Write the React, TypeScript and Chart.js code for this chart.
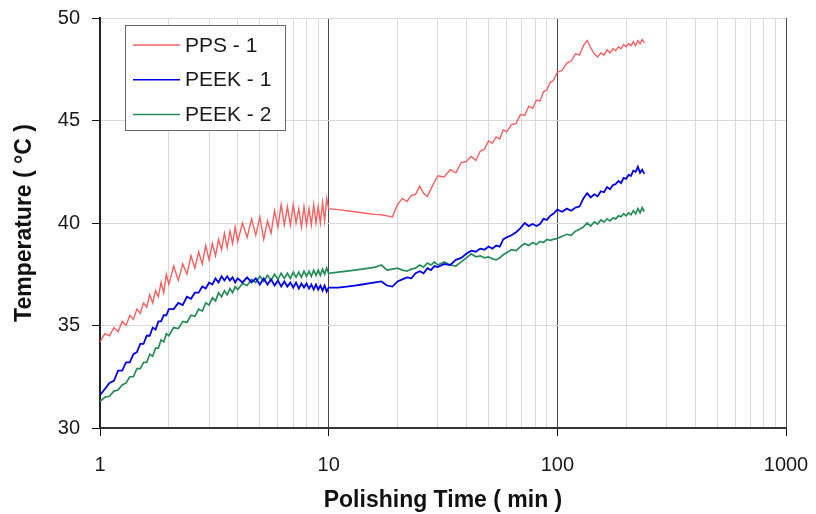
import { useEffect, useRef } from 'react';
import { Chart, registerables } from 'chart.js';

Chart.register(...registerables);

// Sampling times (min)
const TIMES = [
  1.0, 1.05, 1.1, 1.15, 1.2, 1.25, 1.3, 1.35, 1.4, 1.45, 1.5, 1.55, 1.6, 1.65, 1.7, 1.75, 1.8, 1.85, 1.9, 1.95, 2.0,
  2.1, 2.2, 2.3, 2.4, 2.5, 2.6, 2.7, 2.8, 2.9, 3.0, 3.1, 3.2, 3.3, 3.4, 3.5, 3.6, 3.7, 3.8, 3.9, 4.0,
  4.2, 4.4, 4.6, 4.8, 5.0, 5.2, 5.4, 5.6, 5.8, 6.0, 6.2, 6.4, 6.6, 6.8, 7.0, 7.2, 7.4, 7.6, 7.8, 8.0, 8.2, 8.4, 8.6, 8.8, 9.0, 9.2, 9.4, 9.6, 9.8, 10.0,
  11, 12, 13, 14, 15, 16, 17, 18, 19, 20, 21, 22, 23, 24, 25, 26, 27, 28, 29, 30,
  32, 34, 36, 38, 40, 42, 44, 46, 48, 50, 52, 54, 56, 58, 60,
  63, 66, 69, 72, 75, 78, 81, 84, 87, 90, 93, 96,
  100, 105, 110, 115, 120, 125, 130, 135, 140, 145, 150, 155, 160, 165, 170, 175, 180, 185, 190, 195, 200, 205, 210, 215, 220, 225, 230, 235, 240,
];

const PPS_1 = [
  34.2, 34.6, 34.5, 34.9, 34.7, 35.2, 35.0, 35.5, 35.3, 35.8, 35.6, 36.1, 35.9, 36.5, 36.1, 36.7, 36.4, 37.1, 36.6, 37.5, 37.0,
  37.9, 37.2, 38.0, 37.5, 38.4, 37.8, 38.6, 38.0, 38.9, 38.2, 39.0, 38.4, 39.2, 38.7, 39.5, 38.8, 39.6, 39.0, 39.8, 39.1,
  40.0, 39.3, 40.2, 39.4, 40.3, 39.2, 40.1, 39.5, 40.6, 39.8, 40.9, 39.9, 40.8, 39.9, 40.9, 40.0, 40.7, 39.8, 40.8, 39.9, 40.7, 39.9, 40.9, 40.0, 40.8, 40.0, 41.0, 40.1, 41.2, 40.7,
  40.65, 40.6, 40.55, 40.5, 40.45, 40.42, 40.4, 40.35, 40.3, 40.9, 41.2, 41.05, 41.35, 41.4, 41.8, 41.45, 41.3, 41.65, 42.0, 42.3,
  42.25, 42.6, 42.45, 42.95, 43.0, 43.25, 43.05, 43.5, 43.6, 44.0, 43.9, 44.2, 44.1, 44.55, 44.45,
  44.8, 44.85, 45.3, 45.25, 45.7, 45.6, 46.0, 45.95, 46.4, 46.5, 46.85, 46.95,
  47.35, 47.45, 47.8, 47.9, 48.25, 48.2, 48.65, 48.9, 48.55, 48.25, 48.1, 48.3, 48.2, 48.45, 48.3, 48.5, 48.4, 48.6, 48.5, 48.7, 48.6, 48.75, 48.65, 48.85, 48.65, 48.9, 48.75, 48.95, 48.8,
];

const PEEK_1 = [
  31.6, 31.9, 32.2, 32.3, 32.8, 32.8, 33.2, 33.2, 33.6, 33.7, 34.1, 34.1, 34.5, 34.5, 34.9, 34.8, 35.2, 35.2, 35.5, 35.5, 35.8,
  35.8, 36.1, 36.0, 36.4, 36.3, 36.6, 36.6, 36.9, 36.8, 37.1, 37.0, 37.3, 37.1, 37.4, 37.2, 37.4, 37.2, 37.35, 37.1, 37.3,
  37.1, 37.35, 37.1, 37.3, 37.0, 37.3, 37.0, 37.25, 36.95, 37.2, 36.9, 37.15, 36.9, 37.1, 36.85, 37.1, 36.8, 37.05, 36.85, 37.05, 36.8, 37.0, 36.75, 37.0, 36.75, 36.95, 36.7, 36.95, 36.65, 36.85,
  36.85, 36.9, 36.95, 37.0, 37.05, 37.1, 37.15, 36.95, 36.9, 37.15, 37.25, 37.35, 37.3, 37.55, 37.65, 37.55, 37.8, 37.7, 37.9, 37.85,
  38.0, 37.95, 38.2, 38.3, 38.5, 38.65, 38.6, 38.75, 38.7, 38.85, 38.75, 38.9, 38.85, 39.2, 39.3,
  39.4, 39.55, 39.75, 40.0, 39.85, 39.95, 39.85, 39.95, 40.2, 40.15, 40.35, 40.45,
  40.65, 40.55, 40.7, 40.6, 40.75, 40.8, 41.2, 41.45, 41.25, 41.4, 41.3, 41.55, 41.5, 41.75, 41.65, 41.85, 41.9, 42.05, 41.95, 42.2, 42.15, 42.35, 42.3, 42.55, 42.5, 42.75, 42.45, 42.6, 42.4,
];

const PEEK_2 = [
  31.3, 31.5, 31.55, 31.8, 31.85, 32.1, 32.2, 32.5, 32.5, 32.9, 32.9, 33.2, 33.2, 33.6, 33.5, 33.9, 33.9, 34.3, 34.2, 34.6, 34.5,
  34.9, 34.85, 35.2, 35.15, 35.5, 35.45, 35.8, 35.7, 36.1, 36.0, 36.35, 36.2, 36.6, 36.4, 36.7, 36.5, 36.8, 36.6, 36.9, 36.75,
  37.05, 36.95, 37.25, 37.1, 37.4, 37.15, 37.45, 37.2, 37.5, 37.25, 37.55, 37.3, 37.55, 37.3, 37.6, 37.35, 37.6, 37.35, 37.65, 37.4, 37.65, 37.4, 37.7, 37.45, 37.7, 37.45, 37.75, 37.5, 37.8, 37.55,
  37.6, 37.65, 37.7, 37.75, 37.8, 37.85, 37.95, 37.7, 37.75, 37.8, 37.7, 37.65, 37.75, 37.8, 37.95, 37.85, 38.05, 37.95, 38.1, 37.95,
  38.1, 37.95, 37.9, 38.1, 38.3, 38.5, 38.35, 38.4, 38.3, 38.35, 38.25, 38.2, 38.3, 38.45, 38.55,
  38.7, 38.65, 38.85, 39.0, 38.9, 39.05, 38.95, 39.1, 39.05, 39.2, 39.15, 39.2,
  39.25, 39.35, 39.45, 39.4, 39.6, 39.7, 39.8, 40.0, 39.85, 40.05, 39.95, 40.15, 40.05, 40.2, 40.1, 40.25, 40.2, 40.35, 40.3, 40.45, 40.35, 40.5, 40.4, 40.6, 40.45, 40.7, 40.5, 40.75, 40.55,
];

const SERIES_LABELS = ['PPS - 1', 'PEEK - 1', 'PEEK - 2'];
const SERIES_COLORS = ['rgb(244,96,96)', 'rgb(0,0,228)', 'rgb(40,140,88)'];
const SERIES_WIDTHS = [1.4, 1.8, 1.7];

const X_TICKS = [
  1, 2, 3, 4, 5, 6, 7, 8, 9,
  10, 20, 30, 40, 50, 60, 70, 80, 90,
  100, 200, 300, 400, 500, 600, 700, 800, 900,
  1000,
];
const X_LABELED = [1, 10, 100, 1000];
const Y_TICKS = [30, 35, 40, 45, 50];

const FONT = '"Liberation Sans", Arial, sans-serif';

const boxLegend = {
  id: 'boxLegend',
  afterDraw(chart: any) {
    const { ctx, chartArea } = chart;
    const bx = chartArea.left + 25;
    const by = chartArea.top + 7;
    const bw = 160;
    const bh = 105;
    ctx.save();
    ctx.fillStyle = '#ffffff';
    ctx.fillRect(bx, by, bw, bh);
    ctx.strokeStyle = '#666666';
    ctx.lineWidth = 1;
    ctx.strokeRect(bx + 0.5, by + 0.5, bw, bh);
    chart.data.datasets.forEach((ds: any, i: number) => {
      const y = by + 20 + i * 34.7;
      ctx.beginPath();
      ctx.strokeStyle = ds.borderColor;
      ctx.lineWidth = 1.5;
      ctx.moveTo(bx + 8, y);
      ctx.lineTo(bx + 55, y);
      ctx.stroke();
      ctx.fillStyle = '#1a1a1a';
      ctx.font = `21px ${FONT}`;
      ctx.textBaseline = 'middle';
      ctx.textAlign = 'left';
      ctx.fillText(ds.label, bx + 60, y + 1);
    });
    ctx.restore();
  },
};

export default function App() {
  const canvasRef = useRef<HTMLCanvasElement | null>(null);

  useEffect(() => {
    document.body.style.margin = '0';
    const canvas = canvasRef.current;
    if (!canvas) return;

    const seriesValues = [PPS_1, PEEK_1, PEEK_2];
    const datasets = seriesValues.map((vals, k) => ({
      label: SERIES_LABELS[k],
      data: TIMES.map((t, i) => ({ x: t, y: vals[i] })),
      borderColor: SERIES_COLORS[k],
      backgroundColor: SERIES_COLORS[k],
      borderWidth: SERIES_WIDTHS[k],
      pointRadius: 0,
      tension: 0,
      fill: false,
    }));

    const isMajor = (v: number) => X_LABELED.includes(v);

    const chart = new Chart(canvas, {
      type: 'line',
      data: { datasets },
      plugins: [boxLegend],
      options: {
        animation: false,
        responsive: false,
        maintainAspectRatio: false,
        layout: { padding: { top: 18, right: 30, left: 0, bottom: 0 } },
        plugins: {
          legend: { display: false },
          tooltip: { enabled: false },
        },
        scales: {
          x: {
            type: 'logarithmic',
            min: 1,
            max: 1000,
            afterFit: (s: any) => {
              s.height = 86;
              s.paddingLeft = 0;
              s.paddingRight = 0;
            },
            afterBuildTicks: (s: any) => {
              s.ticks = X_TICKS.map((v) => ({ value: v, major: isMajor(v) }));
            },
            ticks: {
              autoSkip: false,
              maxRotation: 0,
              minRotation: 0,
              padding: 17,
              color: '#1a1a1a',
              font: { size: 20, family: FONT },
              callback: (value: any) => (isMajor(Number(value)) ? String(value) : ''),
            },
            grid: {
              color: (c: any) => (c.tick && isMajor(c.tick.value) ? '#4a4a4a' : '#d9d9d9'),
              tickColor: (c: any) => (c.tick && isMajor(c.tick.value) ? '#111111' : 'rgba(0,0,0,0)'),
              tickLength: 8,
              lineWidth: 1,
            },
            border: { color: '#333333', width: 2 },
            title: {
              display: true,
              text: 'Polishing Time ( min )',
              color: '#111111',
              font: { size: 23, weight: 'bold', family: FONT },
              padding: { top: 0, bottom: 0 },
            },
          },
          y: {
            type: 'linear',
            min: 30,
            max: 50,
            afterFit: (s: any) => {
              s.width = 100;
              s.paddingTop = 0;
              s.paddingBottom = 0;
            },
            afterBuildTicks: (s: any) => {
              s.ticks = Y_TICKS.map((v) => ({ value: v }));
            },
            ticks: {
              padding: 12,
              color: '#1a1a1a',
              font: { size: 20, family: FONT },
            },
            grid: {
              color: '#d9d9d9',
              tickColor: '#111111',
              tickLength: 8,
              lineWidth: 1,
            },
            border: { color: '#222222', width: 2 },
            title: {
              display: true,
              text: 'Temperature ( °C )',
              color: '#111111',
              font: { size: 23, weight: 'bold', family: FONT },
              padding: { top: 11, bottom: 0 },
            },
          },
        },
      },
    } as any);

    return () => {
      chart.destroy();
    };
  }, []);

  return (
    <div style={{ width: 816, height: 514, background: '#ffffff' }}>
      <canvas ref={canvasRef} width={816} height={514} />
    </div>
  );
}
